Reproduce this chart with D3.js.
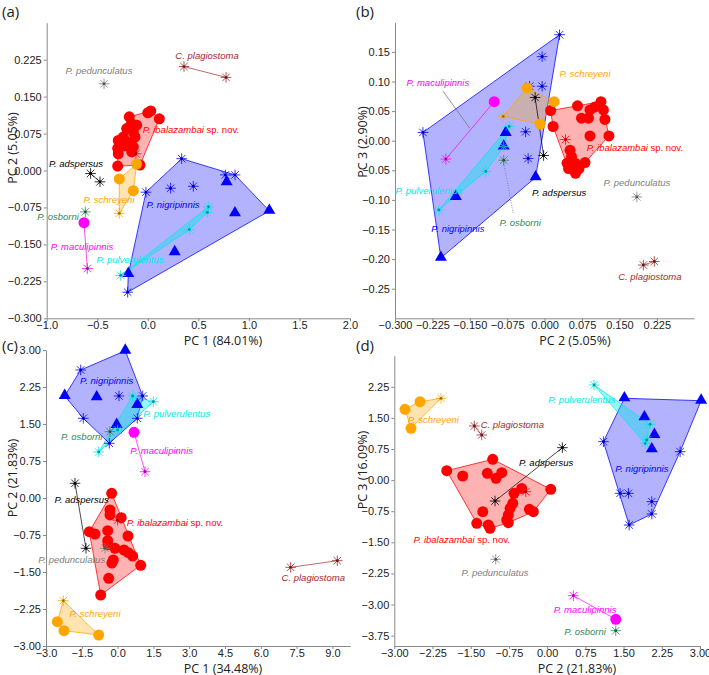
<!DOCTYPE html>
<html>
<head>
<meta charset="utf-8">
<script src="https://d3js.org/d3.v7.min.js"></script>
<style>
  body { margin: 0; background: #fff; }
  .tick text { font-family: "Liberation Sans", Arial, sans-serif; font-size: 11px; fill: #222; }
  .domain, .tick line { stroke: #8a8a8a; }
  .title { font-family: "Open Sans", "Noto Sans", sans-serif; font-size: 12.5px; fill: #222; }
  .plabel { font-family: "Open Sans", "Noto Sans", sans-serif; font-size: 15px; fill: #222; }
  .sp { font-family: "Liberation Sans", Arial, sans-serif; font-size: 9.5px; }
</style>
</head>
<body>
<svg id="fig" width="709" height="675"></svg>
<script>
// species
var codes = ["ib", "ni", "pu", "sc", "ad", "pe", "cp", "os", "ma"];
var names = ["P. ibalazambai", "P. nigripinnis", "P. pulverulentus", "P. schreyeni", "P. adspersus",
             "P. pedunculatus", "C. plagiostoma", "P. osborni", "P. maculipinnis"];
var colors = ["#ff0000", "#0000ff", "#00e8e8", "#ffa500", "#000000", "#808080", "#a52a2a", "#2e8b57", "#ff00ff"];

// kind: c = circle, t = triangle, s = asterisk
// (a) PC1 x PC2, first analysis
var dataA = [
  ["ib","c",0.029,0.121],["ib","c",0.000,0.117],["ib","c",0.114,0.105],["ib","c",-0.183,0.109],["ib","c",-0.110,0.092],
  ["ib","c",-0.160,0.095],["ib","c",-0.209,0.085],["ib","c",-0.143,0.078],["ib","c",-0.242,0.068],["ib","c",-0.127,0.068],
  ["ib","c",-0.292,0.061],["ib","c",-0.209,0.058],["ib","c",-0.176,0.048],["ib","c",-0.143,0.048],["ib","c",-0.230,0.050],
  ["ib","c",-0.298,0.045],["ib","c",-0.292,0.034],["ib","c",-0.159,0.038],["ib","c",-0.298,0.009],["ib","c",-0.077,0.011],
  ["ib","s",-0.117,0.034],
  ["ni","s",0.335,0.024],["ni","s",0.767,-0.009],["ni","s",0.863,-0.009],["ni","s",-0.018,-0.044],["ni","s",0.226,-0.036],
  ["ni","s",0.450,-0.032],["ni","s",-0.199,-0.247],
  ["ni","t",0.780,-0.024],["ni","t",1.202,-0.082],["ni","t",0.862,-0.087],["ni","t",0.266,-0.166],["ni","t",-0.193,-0.210],
  ["pu","s",0.599,-0.074],["pu","s",0.589,-0.085],["pu","s",0.411,-0.120],["pu","s",-0.268,-0.213],
  ["sc","c",-0.282,-0.017],["sc","c",-0.111,0.013],["sc","c",-0.143,-0.041],["sc","s",-0.282,-0.087],
  ["ad","s",-0.566,-0.006],["ad","s",-0.473,-0.023],
  ["pe","s",-0.433,0.176],
  ["cp","s",0.358,0.211],["cp","s",0.774,0.189],
  ["os","s",-0.618,-0.084],
  ["ma","c",-0.631,-0.106],["ma","s",-0.598,-0.199]
];
// (b) PC2 x PC3, first analysis
var dataB = [
  ["ib","c",0.012,0.051],["ib","c",0.017,0.024],["ib","c",0.066,0.059],["ib","c",0.074,0.038],["ib","c",0.091,0.052],
  ["ib","c",0.101,0.057],["ib","c",0.113,0.066],["ib","c",0.118,0.052],["ib","c",0.121,0.036],["ib","c",0.088,0.038],
  ["ib","c",0.091,0.008],["ib","c",0.129,0.008],["ib","c",0.051,-0.016],["ib","c",0.054,-0.027],["ib","c",0.045,-0.038],
  ["ib","c",0.061,-0.038],["ib","c",0.081,-0.037],["ib","c",0.062,-0.055],["ib","c",0.048,-0.047],["ib","c",0.069,-0.047],
  ["ib","s",0.042,0.002],
  ["ni","s",0.030,0.179],["ni","s",-0.005,0.142],["ni","s",-0.005,0.092],["ni","s",-0.030,0.092],["ni","s",-0.244,0.014],
  ["ni","s",-0.038,0.015],["ni","s",-0.033,-0.030],
  ["ni","t",-0.078,0.013],["ni","t",-0.082,-0.010],["ni","t",-0.018,-0.062],["ni","t",-0.178,-0.095],["ni","t",-0.208,-0.198],
  ["pu","s",-0.071,0.024],["pu","s",-0.082,-0.010],["pu","s",-0.118,-0.052],["pu","s",-0.212,-0.117],
  ["sc","c",-0.035,0.089],["sc","c",0.019,0.066],["sc","c",-0.009,0.028],["sc","s",-0.083,0.041],
  ["ad","s",-0.019,0.073],["ad","s",-0.002,-0.025],
  ["pe","s",0.185,-0.095],
  ["cp","s",0.198,-0.210],["cp","s",0.220,-0.204],
  ["os","s",-0.082,-0.033],
  ["ma","c",-0.101,0.066],["ma","s",-0.198,-0.031]
];
// (c) PC1 x PC2, second analysis
var dataC = [
  ["ib","c",-0.248,0.095],["ib","c",-0.319,-0.243],["ib","c",-0.319,-0.344],["ib","c",0.150,-0.400],["ib","c",-1.186,-0.683],
  ["ib","c",-0.947,-0.730],["ib","c",-0.415,-0.663],["ib","c",-0.415,-0.865],["ib","c",0.435,-0.770],["ib","c",-0.109,-1.019],
  ["ib","c",-0.181,-1.257],["ib","c",0.268,-1.054],["ib","c",0.448,-1.109],["ib","c",0.632,-1.176],["ib","c",0.967,-1.364],
  ["ib","c",-0.373,-1.628],["ib","c",-0.708,-1.966],["ib","c",-0.400,-0.950],["ib","c",-0.240,-1.320],
  ["ib","s",0.000,-0.450],
  ["ni","t",0.322,2.986],["ni","t",-2.217,2.068],["ni","t",-0.876,2.041],["ni","t",0.825,1.885],["ni","t",-0.038,1.480],
  ["ni","s",-1.547,2.595],["ni","s",0.058,2.068],["ni","s",1.051,2.068],["ni","s",-1.437,1.616],["ni","s",0.825,1.616],
  ["ni","s",-0.348,1.109],
  ["pu","s",0.632,2.068],["pu","s",1.496,1.953],["pu","s",-0.792,0.933],["pu","s",0.003,1.379],
  ["sc","s",-2.274,-2.082],["sc","c",-2.525,-2.507],["sc","c",-2.246,-2.690],["sc","c",-0.792,-2.777],
  ["ad","s",-1.785,0.298],["ad","s",-1.324,-1.020],
  ["pe","s",-0.528,-1.020],
  ["cp","s",7.251,-1.405],["cp","s",9.205,-1.271],
  ["os","s",-0.319,1.345],
  ["ma","c",0.687,1.332],["ma","s",1.147,0.533]
];
// (d) PC2 x PC3, second analysis
var dataD = [
  ["ib","c",-1.971,0.227],["ib","c",-1.657,0.099],["ib","c",-1.068,0.502],["ib","c",-1.174,0.164],["ib","c",-1.003,0.044],
  ["ib","c",-0.891,0.179],["ib","c",-1.264,-0.762],["ib","c",-1.382,-1.041],["ib","c",-1.154,-1.082],["ib","c",-1.121,-1.162],
  ["ib","c",-0.793,-0.962],["ib","c",-0.762,-0.841],["ib","c",-0.728,-0.680],["ib","c",-0.675,-0.559],["ib","c",-0.650,-0.318],
  ["ib","c",-0.500,-0.200],["ib","c",0.071,-0.221],["ib","c",-0.349,-0.704],["ib","c",-0.271,-0.762],["ib","c",-0.762,-1.027],
  ["ib","s",-0.420,-0.280],
  ["ni","t",1.516,1.973],["ni","t",3.022,1.915],["ni","t",1.909,1.515],["ni","t",2.105,1.088],["ni","t",2.054,0.743],
  ["ni","s",1.104,0.927],["ni","s",2.610,0.686],["ni","s",1.432,-0.318],["ni","s",1.595,-0.318],["ni","s",2.054,-0.520],
  ["ni","s",2.054,-0.817],["ni","s",1.609,-1.082],
  ["pu","s",0.921,2.294],["pu","s",2.021,1.346],["pu","s",1.923,0.888],["pu","s",1.956,0.967],
  ["sc","s",-2.083,1.973],["sc","c",-2.495,1.891],["sc","c",-2.790,1.708],["sc","c",-2.672,1.250],
  ["ad","s",0.299,0.782],["ad","s",-1.023,-0.504],
  ["pe","s",-1.009,-1.909],
  ["cp","s",-1.429,1.305],["cp","s",-1.284,1.088],
  ["os","s",1.347,-3.631],
  ["ma","s",0.515,-2.787],["ma","c",1.347,-3.356]
];

// species label anchors (data units)
var labelsA = [["cp",0.586,0.234],["pe",-0.483,0.203],["ib",0.427,0.082],["ad",-0.710,0.013],["sc",-0.384,-0.060],
  ["ni",0.249,-0.070],["os",-0.888,-0.093],["ma",-0.651,-0.155],["pu",-0.176,-0.180]];
var labelsB = [["ma",-0.214,0.098],["sc",0.081,0.113],["ib",0.181,-0.012],["pe",0.185,-0.071],["ad",0.029,-0.088],
  ["pu",-0.232,-0.085],["os",-0.049,-0.139],["ni",-0.174,-0.149],["cp",0.211,-0.230]];
var labelsC = [["ni",-0.457,2.378],["pu",2.476,1.717],["os",-1.504,1.243],["ma",1.847,0.959],["ad",-1.504,-0.040],
  ["ib",2.404,-0.501],["pe",-1.923,-1.243],["cp",8.198,-1.607],["sc",-0.947,-2.351]];
var labelsD = [["sc",-2.234,1.467],["cp",-0.683,1.346],["pu",0.680,1.949],["ad",-0.021,0.420],["ni",1.858,0.285],
  ["ib",-1.677,-1.427],["pe",-1.023,-2.232],["ma",0.744,-3.115],["os",0.744,-3.655]];
// leader lines in (b)
var leaderSolidB = [[-0.204,0.084,-0.150,0.021]];
var leaderDotB = [[-0.082,-0.038,-0.063,-0.122]];

// ticks
var ticksAx = [-1, -0.5, 0, 0.5, 1, 1.5, 2];
var ticksAy = [-0.3, -0.225, -0.15, -0.075, 0, 0.075, 0.15, 0.225];
var ticksBx = [-0.3, -0.225, -0.15, -0.075, 0, 0.075, 0.15, 0.225];
var ticksBy = [-0.25, -0.2, -0.15, -0.1, -0.05, 0, 0.05, 0.1, 0.15];
var ticksCx = [-3, -1.5, 0, 1.5, 3, 4.5, 6, 7.5, 9];
var ticksCy = [-3, -2.25, -1.5, -0.75, 0, 0.75, 1.5, 2.25, 3];
var ticksDx = [-3, -2.25, -1.5, -0.75, 0, 0.75, 1.5, 2.25, 3];
var ticksDy = [-3.75, -3, -2.25, -1.5, -0.75, 0, 0.75, 1.5, 2.25];

var panels = [
  {tag:"(a)", data:dataA, labels:labelsA, xd:[-1,2], yd:[-0.3,0.3], xr:[46.7,350], yr:[318.3,22.7],
   xt:ticksAx, yt:ticksAy, xf:".1f", yf:".3f", xTitle:"PC 1 (84.01%)", yTitle:"PC 2 (5.05%)",
   tagPos:[2,17], xtPos:[223,345], ytPos:[13,148]},
  {tag:"(b)", data:dataB, labels:labelsB, xd:[-0.3,0.3], yd:[-0.3,0.2], xr:[395,694.2], yr:[318.3,22.3],
   xt:ticksBx, yt:ticksBy, xf:".3f", yf:".2f", xTitle:"PC 2 (5.05%)", yTitle:"PC 3 (2.90%)",
   tagPos:[356,17], xtPos:[575,345], ytPos:[363,142]},
  {tag:"(c)", data:dataC, labels:labelsC, xd:[-3,9.75], yd:[-3,3], xr:[46,350.3], yr:[646,350],
   xt:ticksCx, yt:ticksCy, xf:".1f", yf:".2f", xTitle:"PC 1 (34.48%)", yTitle:"PC 2 (21.83%)",
   tagPos:[2,351], xtPos:[223,672.5], ytPos:[13,478]},
  {tag:"(d)", data:dataD, labels:labelsD, xd:[-3,3], yd:[-4,3], xr:[394.3,700], yr:[646,355.7],
   xt:ticksDx, yt:ticksDy, xf:".2f", yf:".2f", xTitle:"PC 2 (21.83%)", yTitle:"PC 3 (16.09%)",
   tagPos:[356,351], xtPos:[577,672.5], ytPos:[363,470]}
];

var svg = d3.select("#fig");
var colorOf = d3.scaleOrdinal().domain(codes).range(colors);
var nameOf = d3.scaleOrdinal().domain(codes).range(names);
var hullOrder = ["ni", "pu", "ib", "sc"];
var lineGroups = ["ad", "cp", "ma"];
var pointOrder = ["ib", "ni", "pu", "sc", "ad", "pe", "cp", "os", "ma"];

function starPath(r) {
  var d = r * 0.7071;
  return "M" + (-r) + ",0L" + r + ",0M0," + (-r) + "L0," + r +
         "M" + (-d) + "," + (-d) + "L" + d + "," + d + "M" + (-d) + "," + d + "L" + d + "," + (-d);
}

panels.forEach(function(p, pi) {
  var x = d3.scaleLinear().domain(p.xd).range(p.xr);
  var y = d3.scaleLinear().domain(p.yd).range(p.yr);
  var g = svg.append("g");

  // axes
  g.append("g").attr("transform", "translate(0," + p.yr[0] + ")")
    .call(d3.axisBottom(x).tickValues(p.xt).tickFormat(d3.format(p.xf)).tickSize(3).tickSizeOuter(0).tickPadding(0));
  g.append("g").attr("transform", "translate(" + p.xr[0] + ",0)")
    .call(d3.axisLeft(y).tickValues(p.yt).tickFormat(d3.format(p.yf)).tickSize(3).tickSizeOuter(0).tickPadding(2));

  g.append("text").attr("class", "title").attr("x", p.xtPos[0]).attr("y", p.xtPos[1])
    .attr("text-anchor", "middle").text(p.xTitle);
  g.append("text").attr("class", "title").attr("text-anchor", "middle")
    .attr("transform", "translate(" + p.ytPos[0] + "," + p.ytPos[1] + ") rotate(-90)")
    .attr("dy", "0.35em").text(p.yTitle);
  g.append("text").attr("class", "plabel").attr("x", p.tagPos[0]).attr("y", p.tagPos[1]).text(p.tag);

  var byGroup = d3.group(p.data, function(d) { return d[0]; });

  // hulls
  hullOrder.forEach(function(c) {
    var pts = byGroup.get(c).map(function(d) { return [x(d[2]), y(d[3])]; });
    var hull = d3.polygonHull(pts);
    g.append("path").attr("d", "M" + hull.join("L") + "Z")
      .attr("fill", colorOf(c)).attr("fill-opacity", c === "pu" ? 0.4 : 0.3)
      .attr("stroke", colorOf(c)).attr("stroke-opacity", 0.75).attr("stroke-width", 1);
  });

  // connecting lines for two-specimen groups
  lineGroups.forEach(function(c) {
    var pts = byGroup.get(c);
    g.append("line").attr("x1", x(pts[0][2])).attr("y1", y(pts[0][3]))
      .attr("x2", x(pts[1][2])).attr("y2", y(pts[1][3]))
      .attr("stroke", colorOf(c)).attr("stroke-opacity", 0.7).attr("stroke-width", 1);
  });

  // leader lines (panel b)
  if (pi === 1) {
    leaderSolidB.forEach(function(l) {
      g.append("line").attr("x1", x(l[0])).attr("y1", y(l[1])).attr("x2", x(l[2])).attr("y2", y(l[3]))
        .attr("stroke", "#777").attr("stroke-width", 0.8);
    });
    leaderDotB.forEach(function(l) {
      g.append("line").attr("x1", x(l[0])).attr("y1", y(l[1])).attr("x2", x(l[2])).attr("y2", y(l[3]))
        .attr("stroke", "#777").attr("stroke-width", 0.8).attr("stroke-dasharray", "1,1.5");
    });
  }

  // points
  pointOrder.forEach(function(c) {
    var col = colorOf(c);
    var dark = d3.color(col).darker(1.2);
    byGroup.get(c).forEach(function(d) {
      var px = x(d[2]), py = y(d[3]);
      if (d[1] === "c") {
        g.append("circle").attr("cx", px).attr("cy", py).attr("r", 5.5).attr("fill", col);
      } else if (d[1] === "t") {
        g.append("path").attr("d", d3.symbol(d3.symbolTriangle, 62)())
          .attr("transform", "translate(" + px + "," + (py - 0.5) + ")").attr("fill", col);
      } else {
        g.append("path").attr("d", starPath(5.3)).attr("transform", "translate(" + px + "," + py + ")")
          .attr("stroke", col).attr("stroke-opacity", 0.8).attr("stroke-width", 1).attr("fill", "none");
        g.append("circle").attr("cx", px).attr("cy", py).attr("r", 1.4).attr("fill", dark);
      }
    });
  });

  // species labels
  p.labels.forEach(function(l) {
    var t = g.append("text").attr("class", "sp").attr("x", x(l[1])).attr("y", y(l[2]))
      .attr("dy", "0.35em").attr("text-anchor", "middle").attr("fill", colorOf(l[0]));
    t.append("tspan").attr("font-style", "italic").text(nameOf(l[0]));
    if (l[0] === "ib") t.append("tspan").text(" sp. nov.");
  });
});
</script>
</body>
</html>
